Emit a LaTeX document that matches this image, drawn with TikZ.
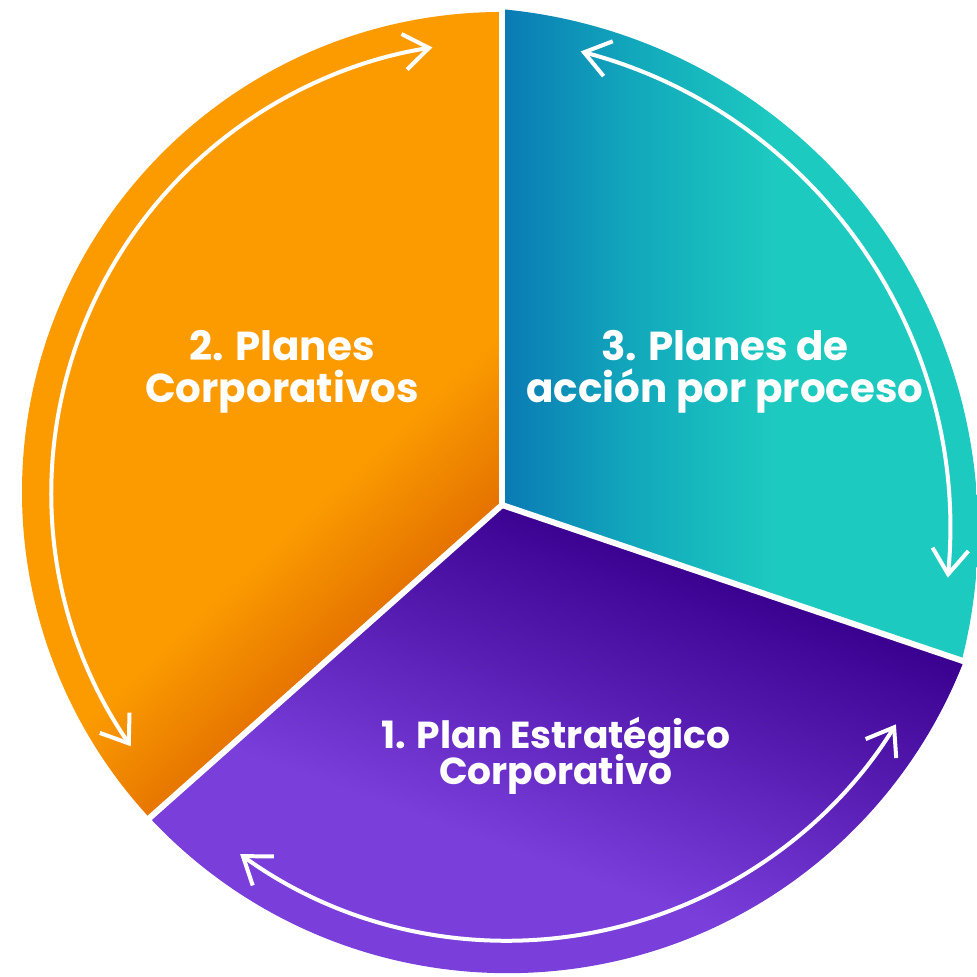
\documentclass[tikz,border=0pt]{standalone}
\usepackage{fontspec}
\setmainfont{Poppins}
\usetikzlibrary{calc, arrows.meta}

\definecolor{orgLight}{HTML}{FB9B00}
\definecolor{orgDark}{HTML}{D65800}
\definecolor{tealBlue}{HTML}{0A7AB4}
\definecolor{tealMid}{HTML}{12A8BC}
\definecolor{tealLight}{HTML}{1DCAC0}
\definecolor{purLight}{HTML}{7A3EDB}
\definecolor{purDark}{HTML}{39008F}

\pgfdeclarehorizontalshading{orangesh}{100bp}{color(0bp)=(orgLight); color(58bp)=(orgLight); color(74bp)=(orgDark); color(100bp)=(orgDark)}
\pgfdeclarehorizontalshading{tealsh}{100bp}{color(0bp)=(tealBlue); color(25bp)=(tealBlue); color(38bp)=(tealMid); color(52bp)=(tealLight); color(100bp)=(tealLight)}
\pgfdeclarehorizontalshading{purplesh}{100bp}{color(0bp)=(purLight); color(42bp)=(purLight); color(70bp)=(purDark); color(100bp)=(purDark)}

\begin{document}
\begin{tikzpicture}[
    divider/.style={white, line width=0.06cm},
    cyclearrow/.style={white, line width=0.04cm, {Straight Barb[length=0.25cm, width=0.36cm]}-{Straight Barb[length=0.25cm, width=0.36cm]}},
    plantext/.style={text=white, font=\bfseries\fontsize{11.5}{11.8}\selectfont, align=center, inner sep=0pt}
]
    \useasboundingbox (0,0) rectangle (9.76,9.77);
    \fill[white] (0,0) rectangle (9.76,9.77);
    \coordinate (V) at (5.02,4.72);

    % sectors: centre / start / end / radius / shading / angle
    \foreach \c/\a/\b/\r/\sh/\ang in {{5.02,4.85}/90/222.8/4.80/orangesh/-47,
                                     {5.075,4.934}/223.1/338.5/4.896/purplesh/70,
                                     {4.54,4.46}/-14.2/84.6/5.24/tealsh/0} {
        \shade[shading=\sh, shading angle=\ang] (V) -- ($(\c)+(\a:\r)$) arc[start angle=\a, end angle=\b, radius=\r] -- cycle;
    }
    \foreach \d in {90,221.6,-18.7} {
        \draw[divider] (V) -- ++(\d:6);
    }

    % arrows round the cycle
    \foreach \c/\a/\b/\r in {{5.02,4.85}/214.4/98.9/4.5,
                             {5.075,4.934}/234.2/328.2/4.57,
                             {4.54,4.46}/75.2/-5.4/4.96} {
        \draw[cyclearrow] ($(\c)+(\a:\r)$) arc[start angle=\a, end angle=\b, radius=\r];
    }

    \node[plantext] (plan2) at (2.82,6.05) {2. Planes\\Corporativos};
    \node[plantext] (plan3) at (7.25,6.05) {3. Planes de\\acción por proceso};
    \node[plantext, font=\bfseries\fontsize{10.7}{11.8}\selectfont] (plan1) at (5.56,2.21) {1. Plan Estratégico\\[-0.05cm]Corporativo};
\end{tikzpicture}
\end{document}
